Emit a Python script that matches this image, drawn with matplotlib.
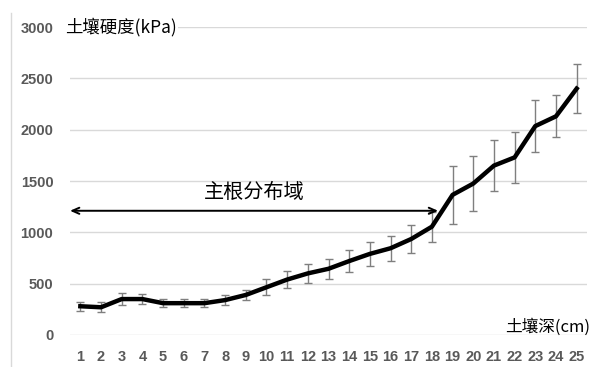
import matplotlib
matplotlib.use('Agg')
import matplotlib.pyplot as plt
from matplotlib.lines import Line2D

plt.rcParams['font.family'] = ['Noto Sans CJK SC', 'DejaVu Sans']

# profondeur du sol (cm) et durete moyenne avec ecart
profondeur = list(range(1, 26))
durete = [280, 270, 350, 350, 310, 310, 310, 340, 390, 465,
          540, 600, 645, 720, 790, 845, 935, 1055, 1365, 1475,
          1650, 1730, 2035, 2130, 2400]
ecart = [45, 50, 55, 45, 40, 40, 40, 45, 50, 80,
         85, 95, 100, 110, 115, 120, 135, 145, 285, 270,
         250, 245, 250, 205, 235]
yticks = [0, 500, 1000, 1500, 2000, 2500, 3000]

titre_y = '土壤硬度(kPa)'
titre_x = '土壤深(cm)'
zone = '主根分布域'
zone_debut, zone_fin, zone_niveau = 0.5, 18.3, 1210

fig = plt.figure(figsize=(5.97, 3.67), dpi=100)
ax = fig.add_axes([70/597, 1 - 335/367, 517/597, 308/367])

ax.errorbar(profondeur, durete, yerr=ecart, color='black', lw=3.2,
            ecolor='#7f7f7f', elinewidth=1, capsize=3, capthick=1, zorder=3)

ax.set_xlim(0.5, 25.5)
ax.set_ylim(0, 3000)
ax.set_yticks(yticks)
ax.set_xticks(profondeur)
ax.grid(axis='y', color='#d9d9d9', lw=1)
ax.set_axisbelow(True)
for s in ax.spines.values():
    s.set_visible(False)
ax.tick_params(length=0)
ax.tick_params(axis='y', pad=12)
ax.tick_params(axis='x', pad=11)
for lab in ax.get_yticklabels() + ax.get_xticklabels():
    lab.set_fontweight('bold')
    lab.set_color('#595959')
    lab.set_fontsize(10.5)
    lab.set_family(['Liberation Sans', 'DejaVu Sans'])

ax.annotate('', xy=(zone_debut, zone_niveau), xytext=(zone_fin, zone_niveau),
            arrowprops=dict(arrowstyle='<->,head_length=0.5,head_width=0.22',
                            color='black', lw=1.4, shrinkA=0, shrinkB=0),
            annotation_clip=False)
ax.text(9.4, 1390, zone, fontsize=14.5, ha='center', va='center')

fig.text(65/597, 1 - 27/367, titre_y, fontsize=12.5, va='center', ha='left',
         bbox=dict(facecolor='white', edgecolor='none', pad=1))
fig.text(590/597, 1 - 327/367, titre_x, fontsize=12, va='center', ha='right')

fig.add_artist(Line2D([11/597, 11/597], [0, 1 - 13/367], color='#d9d9d9', lw=1))

fig.savefig('out.png', dpi=100)
